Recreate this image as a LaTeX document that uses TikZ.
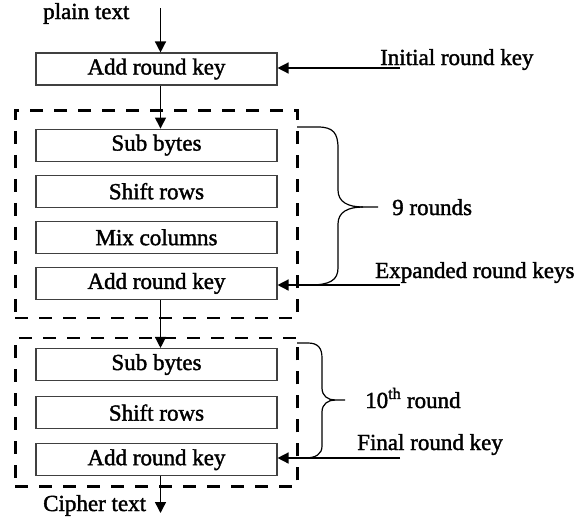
\documentclass[tikz,border=0pt]{standalone}
\usepackage{fontspec}
\setmainfont{Liberation Serif}[FakeBold=1.6]
\usetikzlibrary{arrows.meta,positioning,calc,fit}
\tikzset{
	stage/.style={
		rectangle,
		draw=black!75,
		line width=1.1pt,
		minimum width=241pt,
		minimum height=32pt,
		inner sep=0pt,
	},
	group/.style={
		rectangle,
		draw,
		line width=2.6pt,
		dash pattern=on 13pt off 11pt,
	},
	link/.style={
		-{Triangle[length=11pt,width=11pt]},
		line width=1.4pt,
	},
	brace/.style={
		line width=1.2pt,
	},
	label/.style={
		anchor=base west,
		inner sep=0pt,
	},
}

\begin{document}
\begin{tikzpicture}[x=1pt,y=-1pt,node distance=13pt,
	every node/.style={font=\fontsize{23}{26}\selectfont}]
\useasboundingbox (0,0) rectangle (586,523);

\node[stage] (i) at (156.5,69) {Add round key};
\node[stage] (ii) [below=43pt of i] {Sub bytes};
\node[stage] (iii) [below=of ii] {Shift rows};
\node[stage] (iv) [below=of iii] {Mix columns};
\node[stage] (v) [below=of iv] {Add round key};
\node[stage] (vi) [below=48pt of v] {Sub bytes};
\node[stage] (vii) [below=15pt of vi] {Shift rows};
\node[stage] (viii) [below=14pt of vii] {Add round key};

\node[group,fit=(ii)(v),inner xsep=20pt,inner ysep=18pt] (g1) {};
\node[group,fit=(vi)(viii),inner xsep=20pt,inner ysep=10pt] (g2) {};

\node[label] (plain) at (43,19) {plain text};
\node[label] (cipher) at (43,511) {Cipher text};
\node[label] (kinit) at (380,65) {Initial round key};
\node[label] (kexp) at (375,278) {Expanded round keys};
\node[label] (kfin) at (357,450) {Final round key};
\node[label] (nine) at (392,215) {9 rounds};
\node[label] (tenth) at (365,408) {10\textsuperscript{th} round};

\coordinate (top) at (160.5,8);
\coordinate (bot) at (160.5,513);
\coordinate (ai) at (400,68);
\coordinate (ae) at (400,285);
\coordinate (af) at (400,458);

\draw[link] (top) -- (top |- i.north);
\draw[link] ([xshift=4pt]i.south) -- ([xshift=4pt]ii.north);
\draw[link] ([xshift=4pt]v.south) -- ([xshift=4pt]vi.north);
\draw[link] ([xshift=4pt]viii.south) -- (bot);

\draw[link] (ai) -- (ai -| i.east);
\draw[link] (ae) -- (ae -| v.east);
\draw[link] (af) -- (af -| viii.east);

% braces
\draw[brace]
  (297,127) -- (318,127)
  .. controls (333,127) and (338,133) .. (338,148)
  -- (338,190)
  .. controls (338,202) and (348,207) .. (363,207)
  -- (378,207);
\draw[brace]
  (363,207)
  .. controls (348,207) and (338,212) .. (338,224)
  -- (338,268)
  .. controls (338,280) and (330,285) .. (310,285)
  -- (297,285);

\draw[brace]
  (297,343) -- (308,343)
  .. controls (318,343) and (322,348) .. (322,358)
  -- (322,388)
  .. controls (322,396) and (328,400) .. (335,400)
  -- (345,400);
\draw[brace]
  (335,400)
  .. controls (328,400) and (322,404) .. (322,412)
  -- (322,446)
  .. controls (322,454) and (316,458) .. (305,458)
  -- (297,458);

\end{tikzpicture}
\end{document}
